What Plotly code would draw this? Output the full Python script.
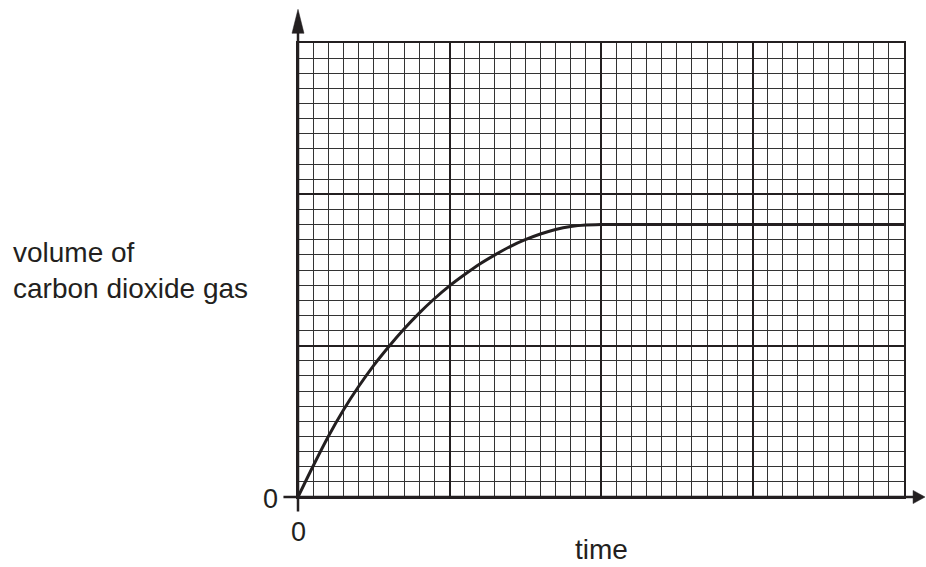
import plotly.graph_objects as go

# data (grid units: 40 x 30 small squares)
time_vals = [0, 1, 2, 3, 4, 5, 6, 7, 8, 9, 10, 11, 12, 13, 14, 15, 16, 17, 18, 19, 20, 40]
volume_vals = [0, 2.05, 4.0, 5.75, 7.3, 8.7, 9.95, 11.1, 12.15, 13.1, 13.95, 14.7, 15.4, 16.0,
               16.55, 17.0, 17.38, 17.68, 17.88, 17.98, 18.0, 18.0]
x_range = [0, 40]
y_range = [0, 30]
x_label = "time"
y_label = "volume of<br>carbon dioxide gas"
origin_label = "0"

INK = "#231f20"
FONT = "Liberation Sans, Arial, sans-serif"

fig = go.Figure()
fig.add_trace(go.Scatter(
    x=time_vals, y=volume_vals, mode="lines",
    line=dict(color=INK, width=3, shape="spline", smoothing=1.0),
    hoverinfo="skip", showlegend=False,
))

axis_common = dict(
    showgrid=True, gridcolor=INK, gridwidth=2,
    minor=dict(dtick=1, showgrid=True, gridcolor="#333333", gridwidth=1, ticks=""),
    showticklabels=False, ticks="", zeroline=False,
    showline=True, mirror=True, linecolor=INK, linewidth=2,
    fixedrange=True,
)
fig.update_xaxes(range=x_range, dtick=10, **axis_common)
fig.update_yaxes(range=y_range, dtick=10, **axis_common)

# axis decorations (domain fractions): extended axes with arrowheads
shapes = []
shapes.append(dict(type="line", xref="x domain", yref="y domain",
                   x0=0, x1=0, y0=-0.032, y1=1.025,
                   line=dict(color=INK, width=2.5)))
shapes.append(dict(type="line", xref="x domain", yref="y domain",
                   x0=-0.024, x1=1.017, y0=0, y1=0,
                   line=dict(color=INK, width=2.5)))
shapes.append(dict(type="path", xref="x domain", yref="y domain",
                   path="M -0.0099 1.0214 L 0.0099 1.0214 L 0 1.0742 Z",
                   fillcolor=INK, line=dict(color=INK, width=0.5)))
shapes.append(dict(type="path", xref="x domain", yref="y domain",
                   path="M 1.0150 -0.0145 L 1.0150 0.0145 L 1.0347 0 Z",
                   fillcolor=INK, line=dict(color=INK, width=0.5)))

annotations = [
    dict(text=y_label, xref="paper", yref="paper", x=-0.473, y=0.498,
         xanchor="left", yanchor="middle", align="left", showarrow=False,
         font=dict(family=FONT, size=28, color=INK)),
    dict(text=x_label, xref="paper", yref="paper", x=0.5, y=-70 / 454,
         xanchor="center", yanchor="bottom", showarrow=False,
         font=dict(family=FONT, size=28, color=INK)),
    dict(text=origin_label, xref="x", yref="y", x=0, y=0,
         xanchor="right", yanchor="middle", xshift=-18, yshift=-2, showarrow=False,
         font=dict(family=FONT, size=27, color=INK)),
    dict(text=origin_label, xref="x", yref="y", x=0, y=0,
         xanchor="center", yanchor="top", yshift=-18, showarrow=False,
         font=dict(family=FONT, size=27, color=INK)),
]

fig.update_layout(
    width=926, height=567,
    margin=dict(l=298, r=22, t=43, b=70),
    paper_bgcolor="white", plot_bgcolor="white",
    shapes=shapes, annotations=annotations,
    showlegend=False,
)

fig.write_html(
    "out.html",
    config={"displayModeBar": False},
    post_script="document.body.style.margin='0';document.body.style.overflow='hidden';",
)
